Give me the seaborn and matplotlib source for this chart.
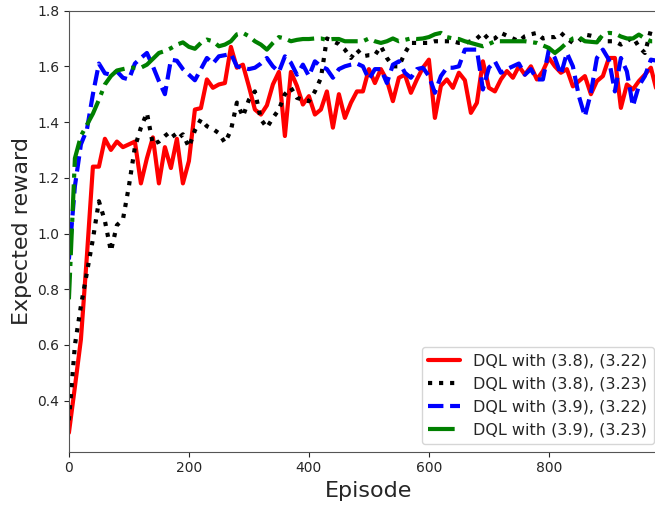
import numpy as np
import pandas as pd
import matplotlib
matplotlib.use("Agg")
import matplotlib.pyplot as plt
import seaborn as sns

episodes = list(range(0, 990, 10))

dql_38_322 = [
    0.285, 0.45, 0.62, 0.92, 1.24, 1.24, 1.34, 1.30, 1.33, 1.31,
    1.32, 1.33, 1.18, 1.27, 1.345, 1.18, 1.31, 1.235, 1.34, 1.18,
    1.26, 1.445, 1.45, 1.553, 1.523, 1.535, 1.54, 1.67, 1.595, 1.606,
    1.528, 1.445, 1.427, 1.46, 1.535, 1.58, 1.35, 1.58, 1.53, 1.463,
    1.493, 1.427, 1.445, 1.51, 1.38, 1.50, 1.415, 1.469, 1.51, 1.51,
    1.59, 1.54, 1.59, 1.55, 1.475, 1.559, 1.57, 1.505, 1.553, 1.595,
    1.624, 1.415, 1.53, 1.553, 1.523, 1.577, 1.55, 1.433, 1.469, 1.618,
    1.523, 1.51, 1.553, 1.583, 1.559, 1.60, 1.57, 1.60, 1.553, 1.583,
    1.63, 1.60, 1.577, 1.59, 1.528, 1.547, 1.565, 1.50, 1.547, 1.565,
    1.63, 1.63, 1.451, 1.535, 1.517, 1.547, 1.57, 1.595, 1.51,
]

dql_38_323 = [
    0.33, 0.60, 0.74, 0.86, 0.98, 1.116, 1.045, 0.937, 1.03, 1.05,
    1.17, 1.31, 1.38, 1.433, 1.32, 1.33, 1.35, 1.367, 1.338, 1.356,
    1.31, 1.37, 1.41, 1.385, 1.375, 1.36, 1.326, 1.37, 1.47, 1.42,
    1.48, 1.51, 1.41, 1.38, 1.415, 1.445, 1.50, 1.523, 1.487, 1.48,
    1.475, 1.51, 1.558, 1.70, 1.69, 1.68, 1.66, 1.63, 1.66, 1.636,
    1.64, 1.64, 1.672, 1.63, 1.60, 1.60, 1.648, 1.684, 1.684, 1.684,
    1.684, 1.69, 1.69, 1.69, 1.69, 1.684, 1.684, 1.69, 1.70, 1.72,
    1.696, 1.70, 1.72, 1.71, 1.70, 1.69, 1.708, 1.715, 1.72, 1.70,
    1.705, 1.705, 1.72, 1.70, 1.684, 1.69, 1.714, 1.71, 1.705, 1.69,
    1.69, 1.69, 1.678, 1.69, 1.705, 1.67, 1.648, 1.73, 1.73,
]

dql_39_322 = [
    0.907, 1.17, 1.32, 1.373, 1.50, 1.61, 1.575, 1.57, 1.582, 1.559,
    1.553, 1.61, 1.63, 1.648, 1.60, 1.547, 1.50, 1.624, 1.62, 1.59,
    1.57, 1.55, 1.59, 1.63, 1.61, 1.636, 1.64, 1.645, 1.60, 1.594,
    1.59, 1.595, 1.61, 1.63, 1.60, 1.58, 1.636, 1.613, 1.57, 1.606,
    1.565, 1.618, 1.60, 1.59, 1.559, 1.59, 1.60, 1.606, 1.61, 1.60,
    1.553, 1.59, 1.59, 1.54, 1.606, 1.618, 1.577, 1.559, 1.59, 1.595,
    1.565, 1.505, 1.565, 1.595, 1.595, 1.60, 1.66, 1.66, 1.66, 1.517,
    1.595, 1.618, 1.577, 1.59, 1.60, 1.61, 1.57, 1.59, 1.553, 1.553,
    1.66, 1.63, 1.57, 1.648, 1.60, 1.493, 1.42, 1.505, 1.63, 1.66,
    1.624, 1.51, 1.63, 1.582, 1.457, 1.53, 1.565, 1.624, 1.62,
]

dql_39_323 = [
    0.764, 1.27, 1.35, 1.39, 1.43, 1.48, 1.535, 1.565, 1.585, 1.59,
    1.595, 1.595, 1.595, 1.606, 1.627, 1.648, 1.655, 1.665, 1.678, 1.686,
    1.67, 1.663, 1.684, 1.696, 1.69, 1.672, 1.678, 1.69, 1.715, 1.72,
    1.708, 1.69, 1.678, 1.66, 1.684, 1.705, 1.70, 1.69, 1.695, 1.698,
    1.698, 1.70, 1.70, 1.695, 1.698, 1.698, 1.69, 1.69, 1.69, 1.69,
    1.70, 1.69, 1.684, 1.69, 1.70, 1.69, 1.695, 1.70, 1.698, 1.70,
    1.705, 1.715, 1.72, 1.705, 1.70, 1.698, 1.69, 1.684, 1.678, 1.672,
    1.68, 1.69, 1.69, 1.69, 1.69, 1.69, 1.69, 1.687, 1.684, 1.675,
    1.666, 1.648, 1.665, 1.685, 1.70, 1.705, 1.69, 1.688, 1.686, 1.714,
    1.72, 1.718, 1.707, 1.70, 1.70, 1.714, 1.70, 1.69, 1.69,
]

labels = [
    "DQL with (3.8), (3.22)",
    "DQL with (3.8), (3.23)",
    "DQL with (3.9), (3.22)",
    "DQL with (3.9), (3.23)",
]
yticks = [0.4, 0.6, 0.8, 1.0, 1.2, 1.4, 1.6, 1.8]
xticks = [0, 200, 400, 600, 800]

sns.set_style("ticks")
plt.rcParams["font.family"] = ["DejaVu Sans"]

fig = plt.figure(figsize=(6.55, 5.05), dpi=100)
ax = fig.add_axes([0.1052, 0.1055, 0.9160, 0.8735])

series = [dql_38_322, dql_38_323, dql_39_322, dql_39_323]
colors = ["red", "black", "blue", "green"]
styles = ["-", ":", "--", "-."]
for vals, lab, c, ls in zip(series, labels, colors, styles):
    df = pd.DataFrame({"Episode": episodes, "reward": vals})
    sns.lineplot(data=df, x="Episode", y="reward", ax=ax, color=c,
                 linestyle=ls, linewidth=3, label=lab)

ax.set_xlim(0, 1000)
ax.set_ylim(0.217, 1.8)
ax.set_xticks(xticks)
ax.set_yticks(yticks)
ax.set_yticklabels([f"{v:.1f}" for v in yticks])
ax.tick_params(labelsize=10)
ax.set_xlabel("Episode", fontsize=16)
ax.set_ylabel("Expected reward", fontsize=16)
for s in ax.spines.values():
    s.set_color("#555555")
ax.legend(loc="lower right", bbox_to_anchor=(0.988, 0.0), fontsize=11.5,
          frameon=True)

fig.savefig("out.png", dpi=100)
